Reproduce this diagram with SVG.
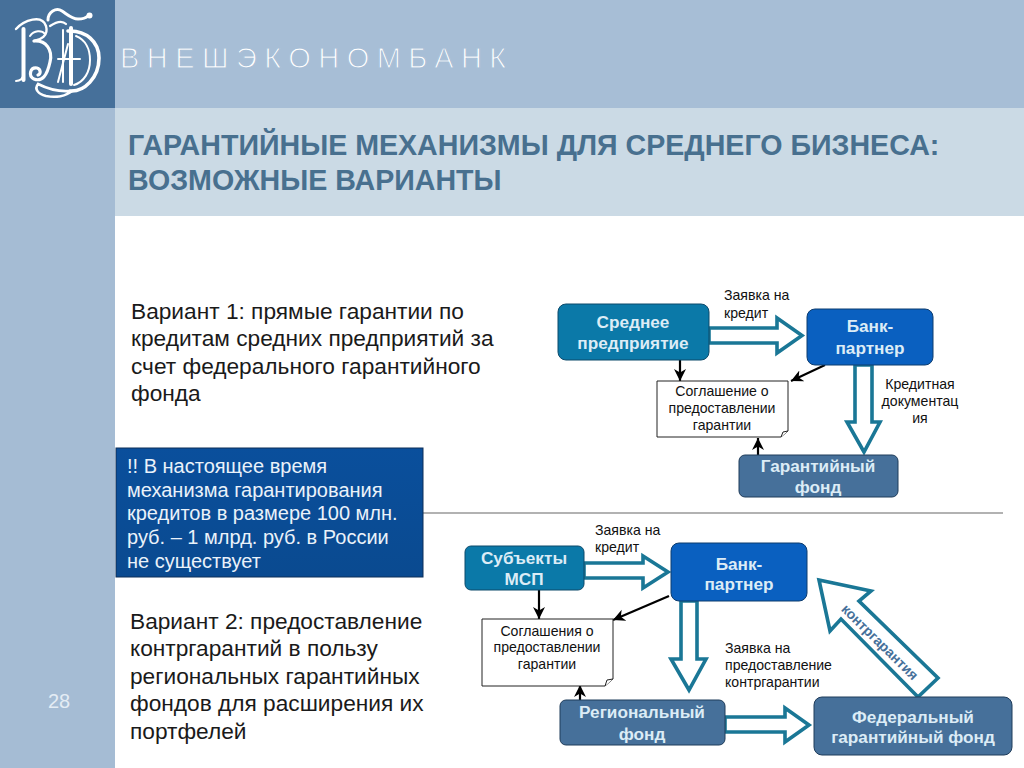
<svg xmlns="http://www.w3.org/2000/svg" width="1024" height="768" viewBox="0 0 1024 768">
<defs>
<style>
text{font-family:"Liberation Sans",Arial,sans-serif}
.body{font-size:22.7px;fill:#1a1a1a}
.note{font-size:20px;fill:#eaf2fa}
.lab{font-size:14.1px;fill:#111}
.mid{text-anchor:middle}
.nt{font-size:17.2px;font-weight:bold;text-anchor:middle;fill:#dcecf6}
.title{font-size:28.6px;font-weight:bold;fill:#48708f}
.teal{fill:#0b79a8;stroke:#0d4a6b;stroke-width:1}
.bank{fill:#0a60c0;stroke:#0d3c6e;stroke-width:1}
.fund{fill:#46709a;stroke:#1f3c5a;stroke-width:1}
.doc{fill:#fff;stroke:#222;stroke-width:1}
.big{fill:#fff;stroke:#1a7796;stroke-width:3.6;stroke-linejoin:miter}
.blk{stroke:#000;stroke-width:2.2;fill:none;marker-end:url(#ah)}
.lg{fill:none;stroke:#fff;stroke-linecap:round}
</style>
<marker id="ah" markerUnits="userSpaceOnUse" markerWidth="14" markerHeight="14" refX="12" refY="6" orient="auto"><path d="M0 0L12 6L0 12L3.5 6Z" fill="#000"/></marker>
<linearGradient id="nb" x1="0" y1="0" x2="0" y2="1"><stop offset="0" stop-color="#0a4f9c"/><stop offset="1" stop-color="#0a4a90"/></linearGradient>
</defs>
<rect width="1024" height="768" fill="#fff"/>
<rect x="115" width="909" height="108" fill="#a7bed6"/>
<rect y="108" width="115" height="660" fill="#a5bcd4"/>
<rect width="115" height="108" fill="#46709a"/>
<rect x="115" y="108" width="909" height="108" fill="#cbdae5"/>
<g id="logo">
<path class="lg" stroke-width="4" d="M23.5 29V80"/>
<path class="lg" stroke-width="2" d="M16 81C20 81 23 78 24 74"/>
<path class="lg" stroke-width="2.4" d="M16 29C24 20 42 14 46 26C49 36 40 40 34 41"/>
<path class="lg" stroke-width="3.2" d="M34 41C46 40 53 50 50 62C47 76 42 82 34 79C28 76 30 67 37 68C41 69 41 74 38 75"/>
<path class="lg" stroke-width="2" d="M30 36C34 30 42 30 45 34"/>
<path class="lg" stroke-width="3" d="M48 20C48 12 56 7 62 11C68 15 72 19 78 19C83 19 86 18 88 16"/>
<circle cx="89.5" cy="15.5" r="3" fill="#fff"/>
<path class="lg" stroke-width="2.2" d="M50 26C56 22 62 20 66 24"/>
<path class="lg" stroke-width="4" d="M71 28V84"/>
<path class="lg" stroke-width="2" d="M63 30V82"/>
<path class="lg" stroke-width="2" d="M58 82L68 44"/>
<path class="lg" stroke-width="2" d="M58 59H80"/>
<path class="lg" stroke-width="3.6" d="M68 31C86 30 99 42 99 58C99 78 84 92 70 91"/>
<path class="lg" stroke-width="2.6" d="M70 91C58 92 46 88 38 84C34 89 38 94 46 96C56 98 66 96 72 91"/>
<path class="lg" stroke-width="2" d="M76 36C86 40 90 50 90 60C90 72 84 82 74 85"/>
</g>
<text x="120" y="68" font-size="29" letter-spacing="7.45" fill="#fff" stroke="#a7bed6" stroke-width="1.1">ВНЕШЭКОНОМБАНК</text>
<text class="title" x="128" y="155">ГАРАНТИЙНЫЕ МЕХАНИЗМЫ ДЛЯ СРЕДНЕГО БИЗНЕСА:</text>
<text class="title" x="128" y="190">ВОЗМОЖНЫЕ ВАРИАНТЫ</text>
<text x="48" y="708" font-size="20" fill="#e4ecf4">28</text>
<g id="variant1">
<text class="body" x="131" y="319">Вариант 1: прямые гарантии по</text>
<text class="body" x="131" y="346">кредитам средних предприятий за</text>
<text class="body" x="131" y="374">счет федерального гарантийного</text>
<text class="body" x="131" y="401">фонда</text>
</g>
<line x1="423" y1="513" x2="1003" y2="513" stroke="#666" stroke-width="1.2"/>
<g id="note">
<rect x="116" y="448" width="307" height="129" fill="url(#nb)" stroke="#0c2f58" stroke-width="1"/>
<text class="note" x="127" y="473">!! В настоящее время</text>
<text class="note" x="127" y="497">механизма гарантирования</text>
<text class="note" x="127" y="520">кредитов в размере 100 млн.</text>
<text class="note" x="127" y="544">руб. – 1 млрд. руб. в России</text>
<text class="note" x="127" y="568">не существует</text>
</g>
<g id="variant2">
<text class="body" x="130" y="629">Вариант 2: предоставление</text>
<text class="body" x="130" y="656">контргарантий в пользу</text>
<text class="body" x="130" y="684">региональных гарантийных</text>
<text class="body" x="130" y="711">фондов для расширения их</text>
<text class="body" x="130" y="739">портфелей</text>
</g>
<g id="connectors">
<polygon class="big" points="709,328 777,328 777,318 802,335.5 777,353 777,343 709,343"/>
<polygon class="big" points="855,365 855,422 847,422 864,452 880,422 872,422 872,365"/>
<path class="blk" d="M680 360V381"/>
<path class="blk" d="M825 365L791 381"/>
<path class="blk" d="M758 455V438"/>
<polygon class="big" points="584,563 643,563 643,556 668,572 643,588 643,578 584,578"/>
<polygon class="big" points="681,601 681,659 671,659 689,690 706,659 697,659 697,601"/>
<polygon class="big" points="725,717 785,717 785,708 809,725 785,742 785,732 725,732"/>
<polygon class="big" points="819,580 871,591 859,601 938,678 918,697 841,619 830,631"/>
<path class="blk" d="M539 590V619"/>
<path class="blk" d="M669 596L613 620"/>
<path class="blk" d="M580 700V685"/>
</g>
<g id="n-sme"><rect class="teal" x="558" y="304" width="151" height="56" rx="8"/><text class="nt" x="633" y="328">Среднее</text><text class="nt" x="633" y="349">предприятие</text></g>
<g id="n-bank1"><rect class="bank" x="807" y="309" width="126" height="56" rx="8"/><text class="nt" x="870" y="332">Банк-</text><text class="nt" x="870" y="354">партнер</text></g>
<g id="n-doc1"><path class="doc" d="M657 381H788V431L781 437H657Z"/><path class="doc" d="M781 437L783 432L788 431" fill="none"/><text class="lab mid" x="722" y="396">Соглашение о</text><text class="lab mid" x="722" y="413">предоставлении</text><text class="lab mid" x="722" y="430">гарантии</text></g>
<g id="n-fund1"><rect class="fund" x="739" y="455" width="159" height="42" rx="6"/><text class="nt" x="818" y="472">Гарантийный</text><text class="nt" x="818" y="493">фонд</text></g>
<g id="n-msp"><rect class="teal" x="465" y="546" width="119" height="44" rx="6"/><text class="nt" x="524" y="564">Субъекты</text><text class="nt" x="524" y="585">МСП</text></g>
<g id="n-bank2"><rect class="bank" x="671" y="543" width="136" height="58" rx="8"/><text class="nt" x="739" y="570">Банк-</text><text class="nt" x="739" y="590">партнер</text></g>
<g id="n-doc2"><path class="doc" d="M482 619H613V679L605 686H482Z"/><path class="doc" d="M605 686L607 680L613 679" fill="none"/><text class="lab mid" x="547" y="636">Соглашения о</text><text class="lab mid" x="547" y="652">предоставлении</text><text class="lab mid" x="547" y="669">гарантии</text></g>
<g id="n-fund2"><rect class="fund" x="560" y="700" width="165" height="45" rx="6"/><text class="nt" x="642" y="718">Региональный</text><text class="nt" x="642" y="740">фонд</text></g>
<g id="n-fed"><rect class="fund" x="814" y="697" width="198" height="58" rx="8"/><text class="nt" x="913" y="723">Федеральный</text><text class="nt" x="913" y="743">гарантийный фонд</text></g>
<g id="labels">
<text class="lab" x="724" y="300">Заявка на</text>
<text class="lab" x="724" y="318">кредит</text>
<text class="lab mid" x="920" y="389">Кредитная</text>
<text class="lab mid" x="920" y="406">документац</text>
<text class="lab mid" x="920" y="423">ия</text>
<text class="lab" x="595" y="535">Заявка на</text>
<text class="lab" x="595" y="552">кредит</text>
<text class="lab" x="725" y="653">Заявка на</text>
<text class="lab" x="725" y="670">предоставление</text>
<text class="lab" x="725" y="687">контргарантии</text>
<text x="880" y="647" font-size="14" font-weight="bold" fill="#46709a" text-anchor="middle" transform="rotate(44.5 880 642)">контргарантия</text>
</g>
</svg>
